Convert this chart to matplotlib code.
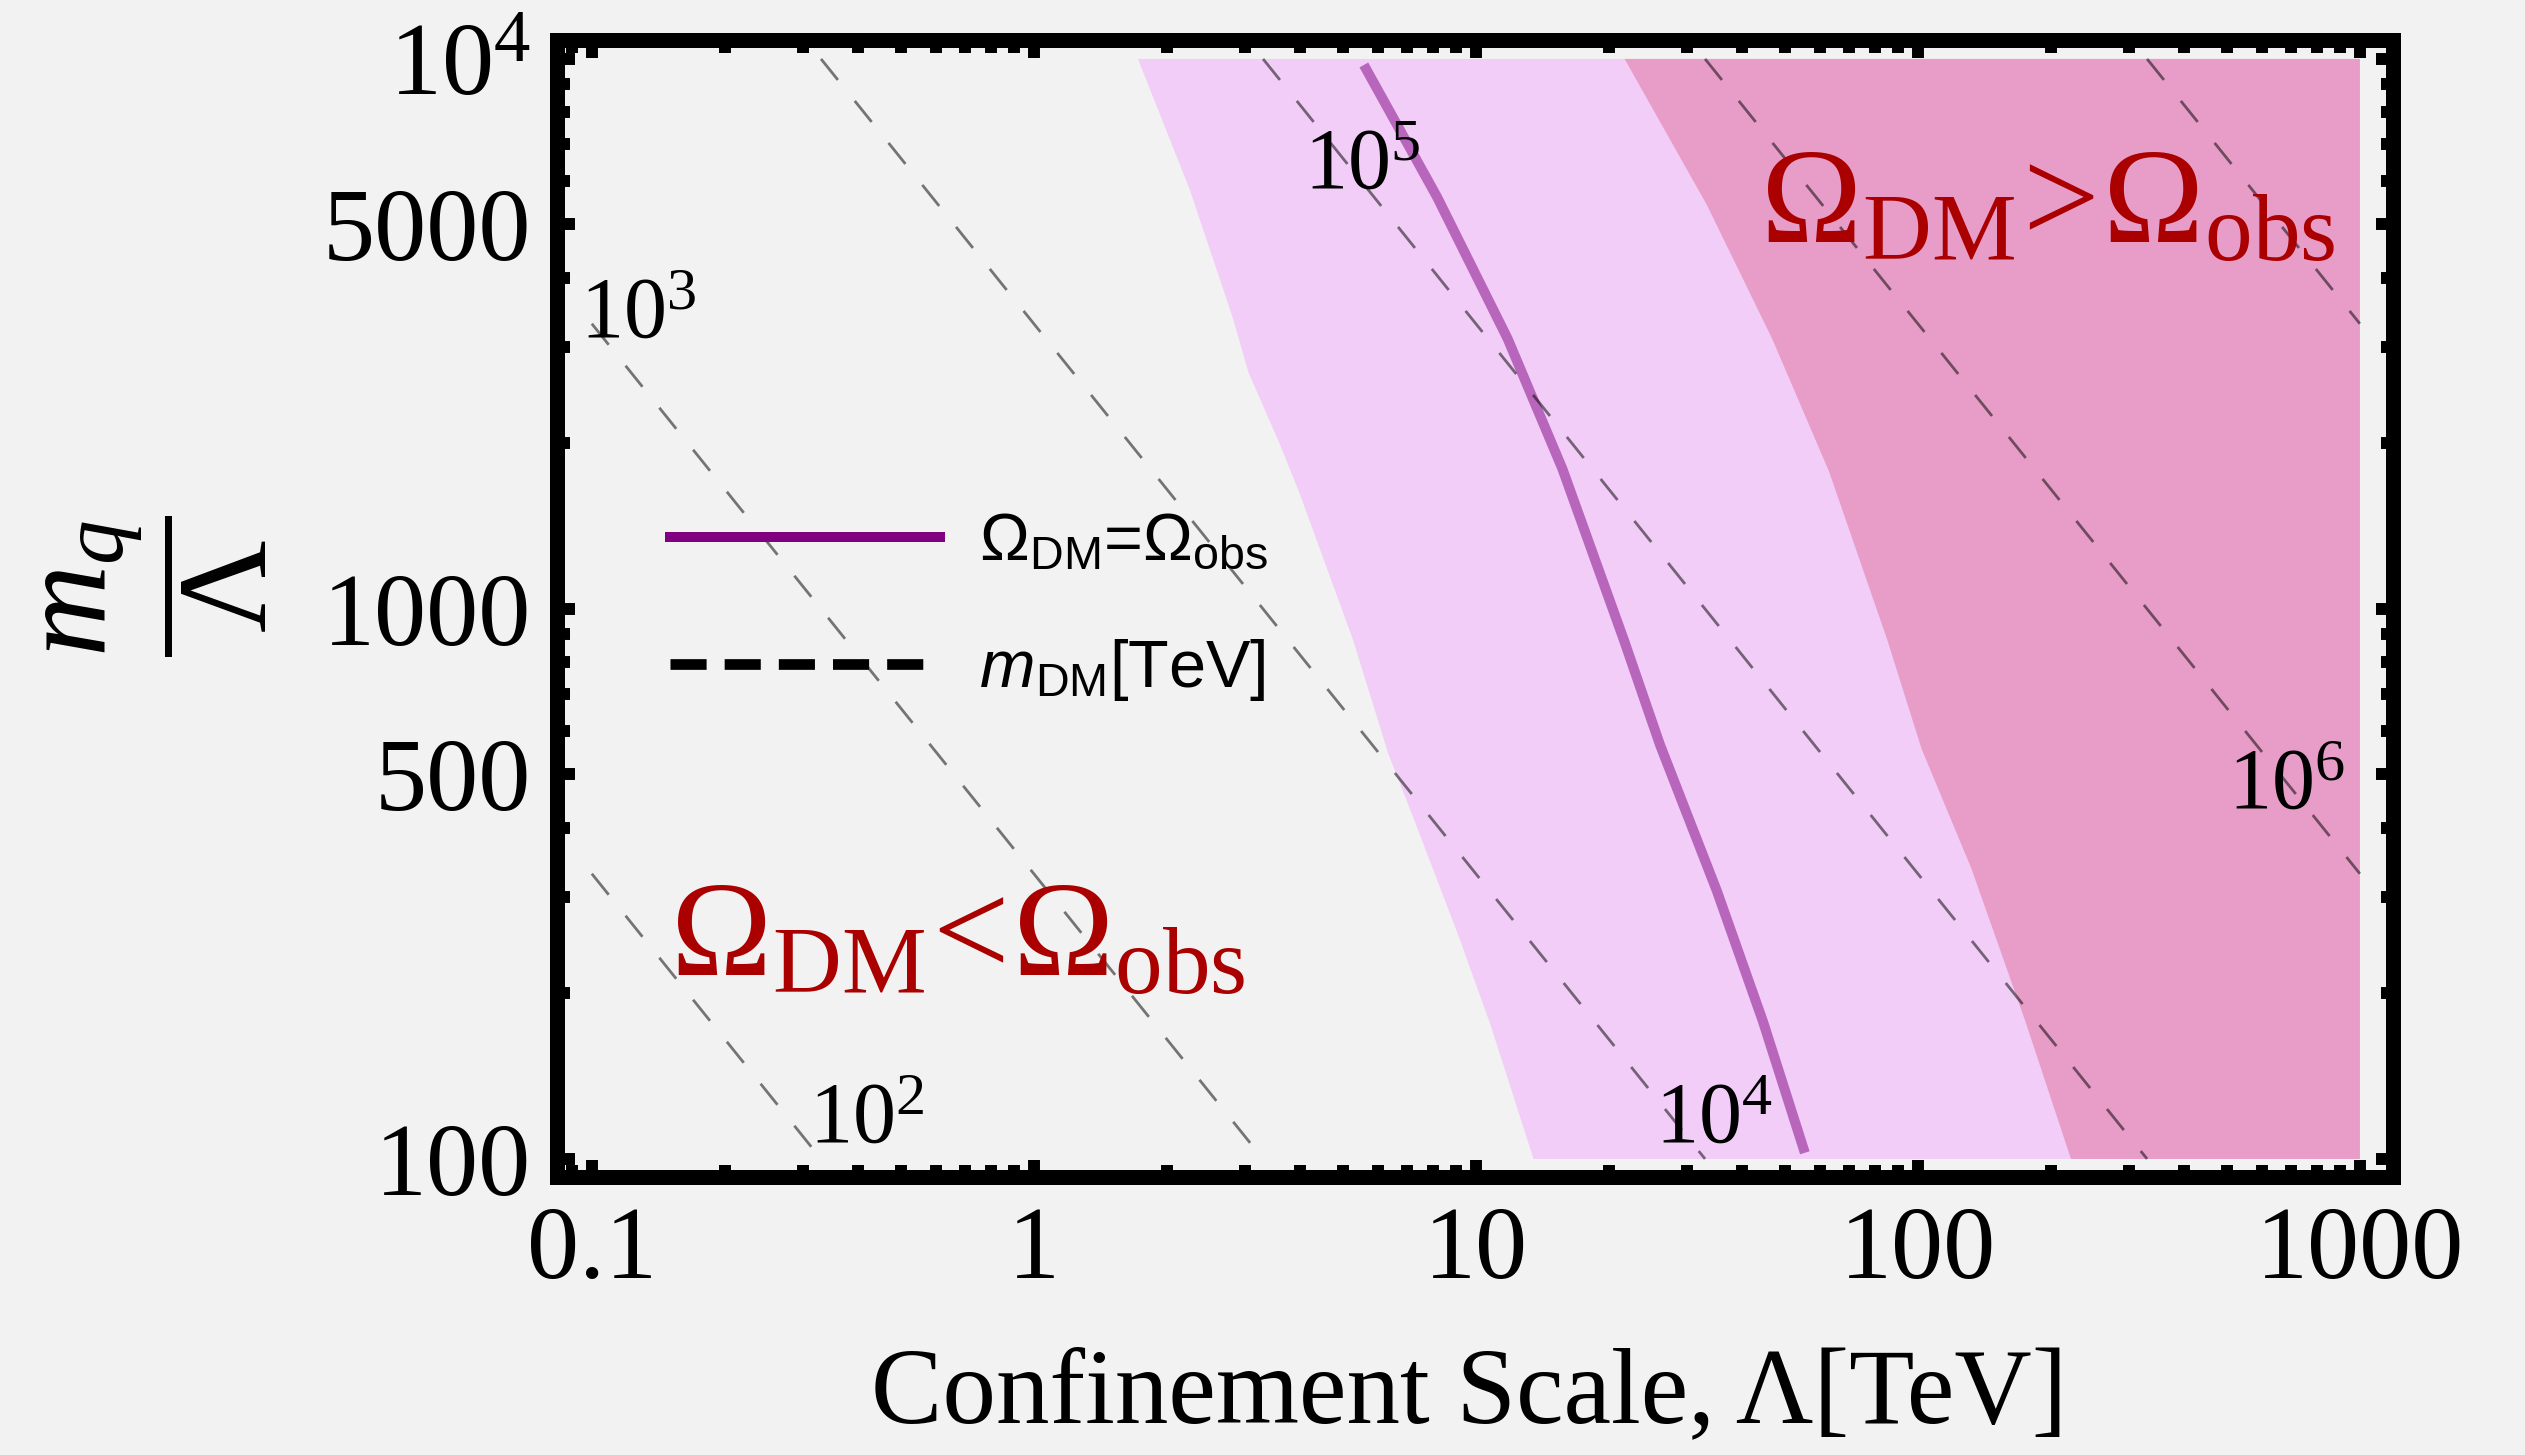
import matplotlib
matplotlib.use('Agg')
import matplotlib.pyplot as plt
from matplotlib.lines import Line2D
from matplotlib.ticker import NullFormatter

plt.rcParams['font.family'] = ['Liberation Serif', 'DejaVu Serif']
plt.rcParams['mathtext.fontset'] = 'custom'
plt.rcParams['mathtext.rm'] = 'Liberation Serif'
plt.rcParams['mathtext.it'] = 'Liberation Serif:italic'
plt.rcParams['mathtext.bf'] = 'Liberation Sans:italic'
plt.rcParams['mathtext.sf'] = 'Liberation Sans'
plt.rcParams['lines.scale_dashes'] = False

# left edge of the light band (Lambda [TeV], m_q/Lambda)
band_lam = [1.72, 2.25, 2.81, 3.06, 3.60, 3.98, 5.27, 6.33, 7.28, 9.16, 10.8, 12.2, 13.5]
band_ratio = [10000, 5800, 3410, 2690, 1995, 1633, 880, 547, 410, 253, 175, 129, 100]

# Omega_DM = Omega_obs curve
relic_lam = [5.58, 8.17, 11.8, 15.7, 21.6, 26.1, 35.1, 44.6, 55.5]
relic_ratio = [9750, 5610, 3100, 1797, 880, 566, 307, 178, 102.6]

# edge of the overabundant region
over_lam = [21.7, 33.3, 46.8, 63.0, 85.2, 102, 132, 175, 222]
over_ratio = [10000, 5430, 3100, 1775, 880, 556, 338, 178, 100]

# m_DM contours (endpoints)
mdm_lam = [[0.1, 0.33], [0.1, 3.3], [0.33, 33], [3.3, 330], [33, 1000], [330, 1000]]
mdm_ratio = [[330, 100], [3300, 100], [10000, 100], [10000, 100], [10000, 330], [10000, 3300]]

mdm_labels = ['$10^2$', '$10^3$', '$10^4$', '$10^5$', '$10^6$']
mdm_label_lam = [0.31, 0.094, 25.4, 4.09, 502]
mdm_label_ratio = [107, 3110, 107, 5800, 433]

lam_max = 1000
ratio_min, ratio_max = 100, 10000

xticks = [0.1, 1, 10, 100, 1000]
xticklabels = ['0.1', '1', '10', '100', '1000']
yticks = [100, 500, 1000, 5000, 10000]
yticklabels = ['100', '500', '1000', '5000', '$10^4$']

bg = '#f2f2f2'
fig = plt.figure(figsize=(25.25, 14.55), dpi=100, facecolor=bg)
ax = fig.add_axes([0.2204, 0.1914, 0.7275, 0.7808])
ax.set_facecolor(bg)
ax.set_xscale('log')
ax.set_yscale('log')

ax.fill(band_lam + [lam_max, lam_max], band_ratio + [ratio_min, ratio_max],
        color='#f2cdf7', lw=0, zorder=1)
ax.fill(over_lam + [lam_max, lam_max], over_ratio + [ratio_min, ratio_max],
        color='#e89dc8', lw=0, zorder=1)

ax.plot(relic_lam, relic_ratio, color='#800080', alpha=0.5, lw=7.2,
        solid_capstyle='butt', zorder=3)

for xs, ys in zip(mdm_lam, mdm_ratio):
    ax.plot(xs, ys, color='k', alpha=0.52, lw=2.0, dashes=(19.4, 19.4), zorder=4)

for t, x, y in zip(mdm_labels, mdm_label_lam, mdm_label_ratio):
    ax.text(x, y, t, fontsize=62, ha='left', va='baseline', zorder=5)

ax.text(44.0, 4630, r'$\Omega_{\rm DM}\!>\!\Omega_{\rm obs}$', color='#aa0000',
        fontsize=98, ha='left', va='baseline', zorder=5)
ax.text(0.150, 215, r'$\Omega_{\rm DM}\!<\!\Omega_{\rm obs}$', color='#aa0000',
        fontsize=98, ha='left', va='baseline', zorder=5)

handles = [Line2D([], [], color='#800080', lw=7.2),
           Line2D([], [], color='k', lw=7.7, dashes=(26, 13))]
labels = [r'Ω$_{\mathsf{DM}}$=Ω$_{\mathsf{obs}}$', r'$\mathbf{m}_{\mathsf{DM}}$[TeV]']
ax.legend(handles, labels, loc='upper left', bbox_to_anchor=(0.0618, 0.585),
          frameon=False, prop={'family': 'Liberation Sans', 'size': 48},
          handlelength=4.05, handletextpad=0.58, labelspacing=0.95,
          borderpad=0, borderaxespad=0)

ax.set_xlim(0.0832, 1191)
ax.set_ylim(92.9, 10804)

minor_x = [0.09] + [k * 10.0 ** e for e in range(-1, 3) for k in range(2, 10)]
minor_y = [k * 10.0 ** e for e in range(2, 4) for k in range(2, 10) if k != 5]
ax.set_xticks(xticks)
ax.set_xticklabels(xticklabels)
ax.set_xticks(minor_x, minor=True)
ax.set_yticks(yticks)
ax.set_yticklabels(yticklabels)
ax.set_yticks(minor_y, minor=True)
ax.xaxis.set_minor_formatter(NullFormatter())
ax.yaxis.set_minor_formatter(NullFormatter())

ax.tick_params(which='both', direction='in', top=True, right=True,
               width=8.6, color='k', labelsize=75)
ax.tick_params(which='major', length=12.6)
ax.tick_params(which='minor', length=9)
ax.tick_params(axis='x', pad=21)
ax.tick_params(axis='y', pad=18)

for s in ax.spines.values():
    s.set_linewidth(10.8)
    s.set_capstyle('projecting')

ax.text(-0.2175, 0.52, r'$\dfrac{m_q}{\Lambda}$', rotation=90, ha='center',
        va='center', fontsize=92, transform=ax.transAxes)
ax.text(0.497, -0.216, 'Confinement Scale, Λ[TeV]', ha='center', va='baseline',
        fontsize=77, transform=ax.transAxes)

fig.savefig('out.png', dpi=100, facecolor=bg)
